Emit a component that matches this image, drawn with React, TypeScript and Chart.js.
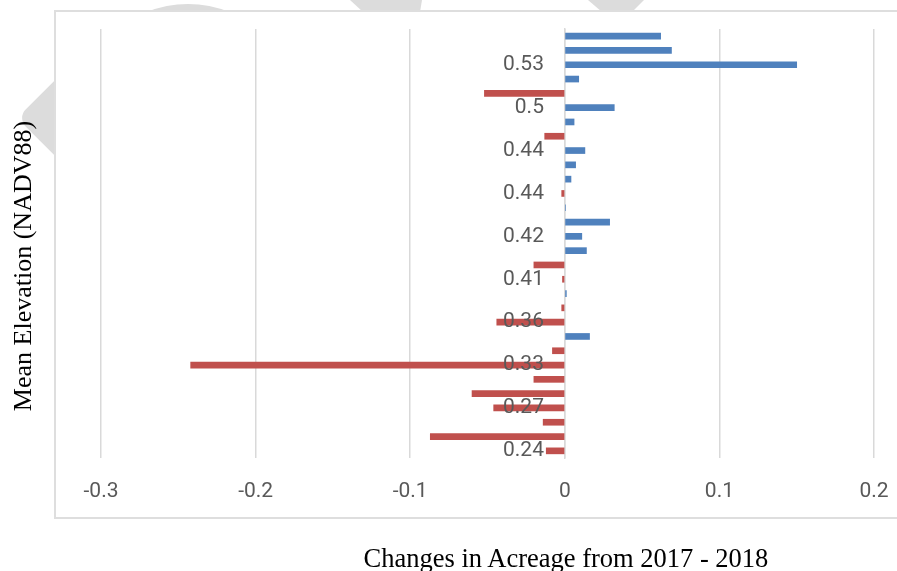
import React, { useEffect, useRef } from 'react';
import { Chart, registerables } from 'chart.js';

Chart.register(...registerables);

// Sites ordered top to bottom; only every third elevation is labelled on the axis.
const elevationLabels = [
  '', '', '0.53', '', '', '0.5', '', '', '0.44', '', '', '0.44', '', '', '0.42',
  '', '', '0.41', '', '', '0.36', '', '', '0.33', '', '', '0.27', '', '', '0.24',
];

// Change in acreage per site, 2017 -> 2018
const acreageChange = [
  0.062, 0.069, 0.15, 0.009, -0.052, 0.032, 0.006, -0.013, 0.013, 0.007,
  0.004, -0.002, 0.0005, 0.029, 0.011, 0.014, -0.02, -0.0015, 0.001, -0.002,
  -0.044, 0.016, -0.008, -0.242, -0.02, -0.06, -0.046, -0.014, -0.087, -0.012,
];

// Value axis range and tick spacing
const xMin = -0.3;
const xMax = 0.2;
const xStep = 0.1;

const GAIN_COLOR = '#4F81BD';
const LOSS_COLOR = '#C0504D';
const GRID_COLOR = '#d9d9d9';
const TICK_COLOR = '#595959';
const SHADE = '#dcdcdc';

export default function App() {
  const canvasRef = useRef<HTMLCanvasElement | null>(null);

  useEffect(() => {
    const canvas = canvasRef.current;
    if (!canvas) return;
    const tickFont = { family: 'Roboto', size: 21 };
    const chart = new Chart(canvas, {
      type: 'bar',
      data: {
        labels: elevationLabels,
        datasets: [
          {
            data: acreageChange,
            backgroundColor: acreageChange.map((v) => (v < 0 ? LOSS_COLOR : GAIN_COLOR)),
            borderWidth: 0,
            barThickness: 6,
          },
        ],
      },
      options: {
        indexAxis: 'y',
        animation: false,
        responsive: false,
        devicePixelRatio: 1,
        layout: { padding: { left: 101, right: 23, top: 29, bottom: 53 } },
        plugins: {
          legend: { display: false },
          tooltip: { enabled: false },
        },
        scales: {
          x: {
            type: 'linear',
            min: xMin,
            max: xMax,
            ticks: {
              stepSize: xStep,
              padding: 0,
              color: TICK_COLOR,
              font: tickFont,
              callback: (value: any) => String(Math.round(Number(value) * 10) / 10),
            },
            // invisible tick marks keep the labels clear of the plot area
            grid: {
              color: GRID_COLOR,
              lineWidth: 1.5,
              drawTicks: true,
              tickLength: 21,
              tickColor: 'rgba(0,0,0,0)',
            },
            border: { display: false },
            afterFit: (scale: any) => {
              scale.height = 60;
            },
          },
          y: {
            position: { x: 0 },
            ticks: {
              autoSkip: false,
              color: TICK_COLOR,
              font: tickFont,
              z: 1,
              callback: (_v: any, i: number) => (elevationLabels[i] ? elevationLabels[i] + '    ' : ''),
            },
            grid: { display: false, drawTicks: false },
            border: { color: GRID_COLOR, width: 1.5 },
          },
        },
      } as any,
    });
    return () => chart.destroy();
  }, []);

  const serif = '"Liberation Serif", "Times New Roman", serif';

  return (
    <div
      style={{
        position: 'absolute',
        left: 0,
        top: 0,
        width: 897,
        height: 571,
        overflow: 'hidden',
        background: '#ffffff',
      }}
    >
      {/* light grey shapes behind the chart frame */}
      <div
        style={{
          position: 'absolute',
          left: 79,
          top: 4,
          width: 218,
          height: 218,
          borderRadius: '50%',
          background: SHADE,
        }}
      />
      <div
        style={{
          position: 'absolute',
          left: 42,
          top: 58,
          width: 120,
          height: 120,
          borderRadius: 12,
          transform: 'rotate(45deg)',
          background: SHADE,
        }}
      />
      <div
        style={{
          position: 'absolute',
          left: 345,
          top: 0,
          width: 80,
          height: 12,
          background: SHADE,
          clipPath: 'polygon(5px 0, 77px 0, 75px 12px, 18px 12px)',
        }}
      />
      <div
        style={{
          position: 'absolute',
          left: 588,
          top: 0,
          width: 56,
          height: 12,
          background: SHADE,
          clipPath: 'polygon(0 0, 56px 0, 44px 12px, 14px 12px)',
        }}
      />
      {/* chart frame */}
      <div
        style={{
          position: 'absolute',
          left: 54,
          top: 10,
          width: 1000,
          height: 505,
          border: '2px solid #dedede',
          background: '#ffffff',
        }}
      />
      <canvas
        ref={canvasRef}
        width={897}
        height={571}
        style={{ position: 'absolute', left: 0, top: 0, width: 897, height: 571 }}
      />
      <div
        style={{
          position: 'absolute',
          left: 23 - 200,
          top: 266 - 15,
          width: 400,
          height: 30,
          lineHeight: '30px',
          textAlign: 'center',
          fontFamily: serif,
          fontSize: 26,
          color: '#000000',
          whiteSpace: 'nowrap',
          transform: 'rotate(-90deg)',
        }}
      >
        Mean Elevation (NADV88)
      </div>
      <div
        style={{
          position: 'absolute',
          left: 566 - 300,
          top: 543,
          width: 600,
          height: 30,
          lineHeight: '30px',
          textAlign: 'center',
          fontFamily: serif,
          fontSize: 26.5,
          color: '#000000',
          whiteSpace: 'nowrap',
        }}
      >
        Changes in Acreage from 2017 - 2018
      </div>
    </div>
  );
}
